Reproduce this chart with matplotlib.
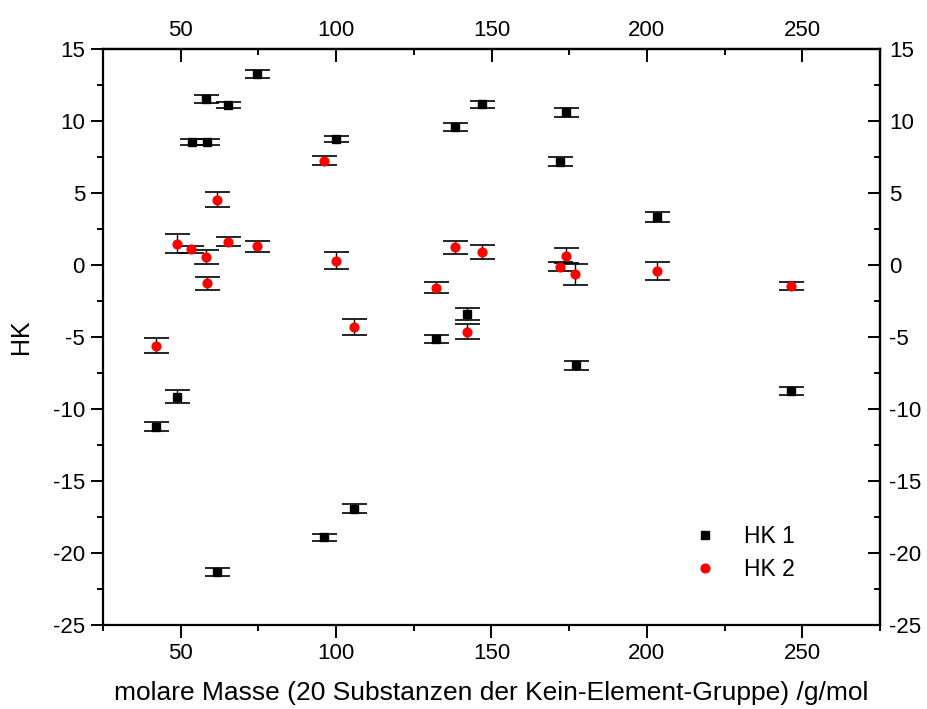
import matplotlib
matplotlib.use("Agg")
import matplotlib.pyplot as plt
from matplotlib.ticker import MultipleLocator

plt.rcParams['font.family'] = ['Liberation Sans', 'DejaVu Sans']
plt.rcParams['axes.unicode_minus'] = False

# HK 1 series: molar mass, value, uncertainty
hk1_x = [74.4, 58.1, 65.1, 53.5, 58.4, 100.0, 147.0, 138.2, 174.1, 172.1,
         203.3, 48.9, 42.0, 61.8, 96.1, 105.9, 142.0, 132.1, 177.1, 246.3]
hk1_y = [13.24, 11.53, 11.11, 8.56, 8.56, 8.77, 11.16, 9.56, 10.6, 7.17,
         3.35, -9.15, -11.23, -21.34, -18.91, -16.94, -3.4, -5.16, -6.97, -8.75]
hk1_err = [0.27, 0.25, 0.23, 0.2, 0.2, 0.2, 0.25, 0.27, 0.31, 0.3,
           0.34, 0.45, 0.3, 0.28, 0.24, 0.31, 0.4, 0.27, 0.3, 0.31]

# HK 2 series
hk2_x = [96.1, 61.8, 48.9, 53.3, 58.1, 65.1, 74.4, 100.0, 58.4, 138.2,
         147.0, 174.1, 172.1, 177.0, 203.3, 132.1, 42.0, 105.9, 142.0, 246.3]
hk2_y = [7.24, 4.54, 1.48, 1.09, 0.58, 1.6, 1.3, 0.30, -1.27, 1.23,
         0.9, 0.65, -0.12, -0.65, -0.42, -1.58, -5.6, -4.31, -4.65, -1.46]
hk2_err = [0.31, 0.52, 0.68, 0.24, 0.49, 0.31, 0.37, 0.6, 0.45, 0.45,
           0.51, 0.51, 0.3, 0.73, 0.64, 0.38, 0.54, 0.53, 0.52, 0.31]

x_ticks = [50, 100, 150, 200, 250]
y_ticks = [-25, -20, -15, -10, -5, 0, 5, 10, 15]

W, H = 928, 709
fig = plt.figure(figsize=(W / 100, H / 100), dpi=100)
ax = fig.add_axes([103 / W, 1 - 625 / H, (880 - 103) / W, (625 - 49) / H])

ax.errorbar(hk1_x, hk1_y, yerr=hk1_err, fmt='s', color='black', ms=5.8,
            ecolor='black', elinewidth=1.0, capsize=9, capthick=1.2,
            label='HK 1', zorder=3)
ax.errorbar(hk2_x, hk2_y, yerr=hk2_err, fmt='o', color='red', ms=6.3,
            ecolor='black', elinewidth=1.0, capsize=9, capthick=1.2,
            label='HK 2', zorder=3)

ax.set_xlim(25, 275)
ax.set_ylim(-25, 15)
ax.set_xticks(x_ticks)
ax.set_yticks(y_ticks)
ax.xaxis.set_minor_locator(MultipleLocator(25))
ax.yaxis.set_minor_locator(MultipleLocator(2.5))

for s in ax.spines.values():
    s.set_linewidth(1.6)

TICK_FS = 16
ax.tick_params(which='major', direction='out', length=9, width=1.4,
               labelsize=TICK_FS, pad=4, top=False, right=False)
ax.tick_params(which='minor', direction='out', length=4.5, width=1.4,
               top=False, right=False)

# mirrored axes with inward ticks
secx = ax.secondary_xaxis('top')
secx.set_xticks(x_ticks)
secx.xaxis.set_minor_locator(MultipleLocator(25))
secx.tick_params(which='major', direction='in', length=9, width=1.4,
                 labelsize=TICK_FS, pad=6)
secx.tick_params(which='minor', direction='in', length=4.5, width=1.4)
secx.spines['top'].set_linewidth(1.6)

secy = ax.secondary_yaxis('right')
secy.set_yticks(y_ticks)
secy.yaxis.set_minor_locator(MultipleLocator(2.5))
secy.tick_params(which='major', direction='in', length=9, width=1.4,
                 labelsize=TICK_FS, pad=6.5)
secy.tick_params(which='minor', direction='in', length=4.5, width=1.4)
secy.spines['right'].set_linewidth(1.6)

ax.set_xlabel('molare Masse (20 Substanzen der Kein-Element-Gruppe) /g/mol',
              fontsize=19, labelpad=12)
ax.set_ylabel('HK', fontsize=18, labelpad=14)

handles, labels = ax.get_legend_handles_labels()
handles = [h[0] for h in handles]
ax.legend(handles, labels, loc='upper left',
          bbox_to_anchor=(694 / W, 1 - 525 / H), bbox_transform=fig.transFigure,
          frameon=False, fontsize=16.5, handletextpad=1.2, labelspacing=0.45,
          handlelength=1.0, borderpad=0, borderaxespad=0)

fig.savefig('out.png', dpi=100)
